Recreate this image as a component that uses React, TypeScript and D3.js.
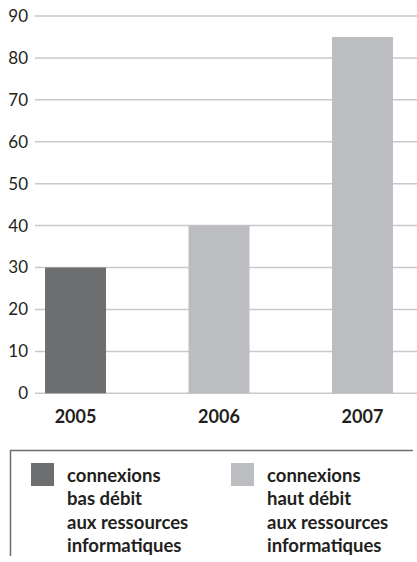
import * as d3 from "d3";
import { useEffect, useRef } from "react";

const years = ["2005", "2006", "2007"];
const values = [30, 40, 85];
const barKinds = ["bas", "haut", "haut"];
const yTicks = [0, 10, 20, 30, 40, 50, 60, 70, 80, 90];

const legendItems = [
  { kind: "bas", lines: ["connexions", "bas débit", "aux ressources", "informatiques"] },
  { kind: "haut", lines: ["connexions", "haut débit", "aux ressources", "informatiques"] },
];

const colors = { bas: "#6d6e70", haut: "#bcbdc0" };

export default function App() {
  const svgRef = useRef(null);

  useEffect(() => {
    const width = 417;
    const height = 562;
    const svg = d3.select(svgRef.current).attr("width", width).attr("height", height);
    svg.selectAll("*").remove();

    const font = "Lato, 'Open Sans', sans-serif";
    const textColor = "#231f20";

    const y = d3.scaleLinear().domain([0, 90]).range([393.3, 16]);
    const x = d3
      .scaleBand()
      .domain(years)
      .range([35, 403])
      .paddingInner(0.575)
      .paddingOuter(0.07);

    // gridlines
    svg
      .append("g")
      .selectAll("line")
      .data(yTicks)
      .enter()
      .append("line")
      .attr("x1", 35)
      .attr("x2", width)
      .attr("y1", (d) => y(d))
      .attr("y2", (d) => y(d))
      .attr("stroke", "#c9c9cb")
      .attr("stroke-width", 1.5);

    // y labels
    svg
      .append("g")
      .selectAll("text")
      .data(yTicks)
      .enter()
      .append("text")
      .attr("x", 28)
      .attr("y", (d) => y(d))
      .attr("dy", "0.35em")
      .attr("text-anchor", "end")
      .attr("font-family", font)
      .attr("font-size", 17)
      .attr("fill", textColor)
      .text((d) => d);

    // bars
    svg
      .append("g")
      .selectAll("rect")
      .data(values)
      .enter()
      .append("rect")
      .attr("x", (_, i) => x(years[i]))
      .attr("width", x.bandwidth())
      .attr("y", (d) => y(d))
      .attr("height", (d) => y(0) - y(d))
      .attr("fill", (_, i) => colors[barKinds[i]]);

    // x labels
    svg
      .append("g")
      .selectAll("text")
      .data(years)
      .enter()
      .append("text")
      .attr("x", (d) => x(d) + x.bandwidth() / 2)
      .attr("y", 423)
      .attr("text-anchor", "middle")
      .attr("font-family", font)
      .attr("font-weight", "bold")
      .attr("font-size", 18)
      .attr("fill", textColor)
      .text((d) => d);

    // legend box (top and left edges)
    const box = svg.append("g");
    box
      .append("path")
      .attr("d", "M10.5,556 L10.5,450.5 L413,450.5")
      .attr("fill", "none")
      .attr("stroke", "#6d6e70")
      .attr("stroke-width", 1.5);

    const legend = box
      .selectAll("g.item")
      .data(legendItems)
      .enter()
      .append("g")
      .attr("class", "item")
      .attr("transform", (_, i) => `translate(${31 + i * 200},463)`);

    legend
      .append("rect")
      .attr("width", 23)
      .attr("height", 23)
      .attr("fill", (d) => colors[d.kind]);

    legend
      .append("text")
      .attr("font-family", font)
      .attr("font-weight", "bold")
      .attr("font-size", 18.5)
      .attr("fill", textColor)
      .selectAll("tspan")
      .data((d) => d.lines)
      .enter()
      .append("tspan")
      .attr("x", 36)
      .attr("y", (_, i) => 19 + i * 23.3)
      .text((d) => d);
  }, []);

  return (
    <svg
      ref={svgRef}
      style={{ position: "absolute", left: 0, top: 0, background: "#fff" }}
    ></svg>
  );
}
